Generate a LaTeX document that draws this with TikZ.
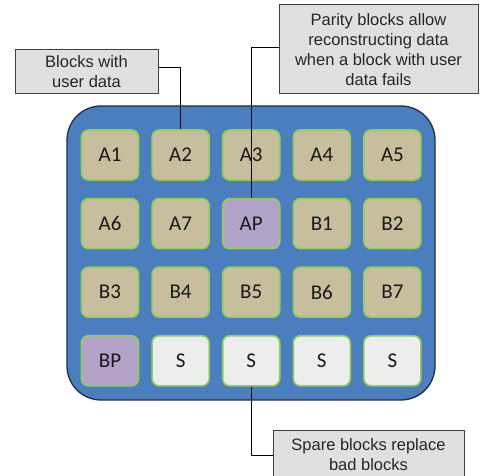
\documentclass[tikz,border=0pt]{standalone}
\usepackage{fontspec}
\setmainfont{Liberation Sans}
\newfontfamily\blkfont{Carlito}
\usetikzlibrary{positioning}
\definecolor{boardblue}{HTML}{4A7EBF}
\definecolor{boardline}{HTML}{1F2F48}
\definecolor{blktan}{HTML}{C6BE9C}
\definecolor{blkgreen}{HTML}{92D050}
\definecolor{parpurple}{HTML}{B3A2C7}
\definecolor{sparegrey}{HTML}{EDEDED}
\definecolor{notefill}{HTML}{E0E0E0}
\definecolor{noteline}{HTML}{3F3F3F}
\tikzstyle{board} = [rectangle, draw=boardline, line width=1.3pt, fill=boardblue, rounded corners=34pt, minimum width=368pt, minimum height=294pt]
\tikzstyle{blk} = [rectangle, draw=blkgreen, line width=1.6pt, fill=blktan, rounded corners=7pt, minimum width=57pt, minimum height=50pt, text=black!90, font=\blkfont\fontsize{21}{21}\selectfont]
\tikzstyle{parblk} = [blk, fill=parpurple]
\tikzstyle{spareblk} = [blk, fill=sparegrey]
\tikzstyle{note} = [rectangle, draw=noteline, fill=notefill, line width=1pt, align=center, text=black!85, font=\fontsize{16.5}{19.8}\selectfont]

\begin{document}
\begin{tikzpicture}[x=1pt, y=-1pt]
        \useasboundingbox (0,0) rectangle (480,476);
        \clip (0,0) rectangle (480,476);

        \node[board] (board) at (251,253) {};

        % row 1
        \node[blk] (a1) at (110,155) {A1};
        \node[blk, right=12pt of a1] (a2) {A2};
        \node[blk, right=12pt of a2] (a3) {A3};
        \node[blk, right=12pt of a3] (a4) {A4};
        \node[blk, right=12pt of a4] (a5) {A5};
        % row 2
        \node[blk, below=17pt of a1] (a6) {A6};
        \node[blk, right=12pt of a6] (a7) {A7};
        \node[parblk, right=12pt of a7] (ap) {AP};
        \node[blk, right=12pt of ap] (b1) {B1};
        \node[blk, right=12pt of b1] (b2) {B2};
        % row 3
        \node[blk, below=17pt of a6] (b3) {B3};
        \node[blk, right=12pt of b3] (b4) {B4};
        \node[blk, right=12pt of b4] (b5) {B5};
        \node[blk, right=12pt of b5] (b6) {B6};
        \node[blk, right=12pt of b6] (b7) {B7};
        % row 4
        \node[parblk, below=17pt of b3] (bp) {BP};
        \node[spareblk, right=12pt of bp] (s1) {S};
        \node[spareblk, right=12pt of s1] (s2) {S};
        \node[spareblk, right=12pt of s2] (s3) {S};
        \node[spareblk, right=12pt of s3] (s4) {S};

        \node[note, minimum width=143pt, minimum height=44pt] (n1) at (86.5,72) {Blocks with\\user data};
        \node[note, minimum width=199pt, minimum height=89pt] (n2) at (378.5,49.5) {Parity blocks allow\\reconstructing data\\when a block with user\\data fails};
        \node[note, minimum width=191pt, minimum height=50pt] (n3) at (368.5,455) {Spare blocks replace\\bad blocks};

        \draw[line width=1pt] ([yshift=4pt]n1.east) -| (a2.north);
        \draw[line width=1pt] ([yshift=2pt]n2.west) -| (ap.north);
        \draw[line width=1pt] (n3.west) -| (s2.south);

    \end{tikzpicture}
\end{document}
